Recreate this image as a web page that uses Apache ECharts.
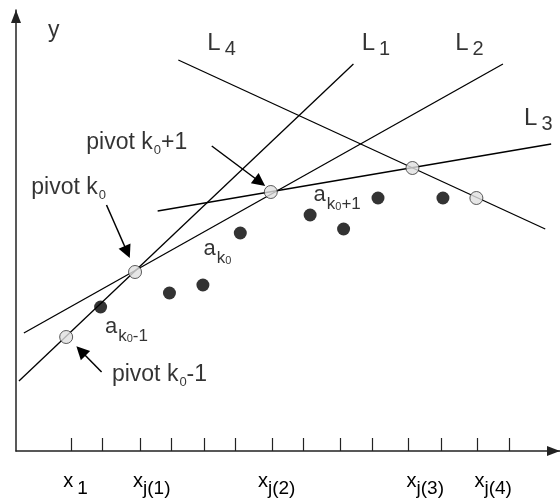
<!DOCTYPE html>
<html>
<head>
<meta charset="utf-8">
<script src="https://cdn.jsdelivr.net/npm/echarts@6/dist/echarts.min.js"></script>
<style>
  html, body { margin: 0; padding: 0; background: #fff; }
  #chart { width: 560px; height: 500px; }
</style>
</head>
<body>
<div id="chart"></div>
<script>
// axis ticks and where the x labels sit (data units)
const xTicks = [5.6, 8.8, 12.6, 15.8, 19.1, 22.3, 26.0, 29.2, 33.0, 36.2, 39.9, 43.2, 46.9, 50.1];
const xLabelAt = [4.8, 11.9, 24.6, 39.7, 46.6];
const xLabels = ['{m|x}{s1|1}', '{m|x}{s|j(1)}', '{m|x}{s|j(2)}', '{m|x}{s|j(3)}', '{m|x}{s|j(4)}'];

// data points a_k, pivots are picked out by index
const ptX = [5.1, 8.6, 12.1, 15.6, 19.0, 22.8, 25.9, 29.9, 33.3, 36.8, 40.3, 43.4, 46.8];
const ptY = [11.4, 14.4, 17.9, 15.8, 16.6, 21.8, 25.9, 23.6, 22.2, 25.3, 28.3, 25.3, 25.3];
const pivotIdx = [0, 2, 6, 10, 12];

// the four lines L1..L4 (end points)
const lineL1 = [[0.3, 7.0], [34.3, 38.7]];
const lineL2 = [[0.8, 11.8], [49.5, 38.7]];
const lineL3 = [[14.4, 24.0], [54.4, 30.7]];
const lineL4 = [[16.5, 39.1], [53.8, 22.2]];

// pointer arrows (tail -> head)
const arrowFrom = [[19.9, 30.5], [9.2, 24.6], [8.7, 7.9]];
const arrowTo = [[24.8, 26.9], [11.3, 19.9], [6.6, 10.0]];

// text notes
const noteX = [3.3, 19.5, 35.2, 44.7, 51.7, 7.2, 1.6, 9.8, 19.1, 30.3, 9.1];
const noteY = [42.0, 40.74, 40.74, 40.74, 33.24, 30.75, 26.3, 7.6, 20.17, 25.57, 12.37];
const noteText = [
  '{y|y}',
  '{L|L}{n|4}',
  '{L|L}{n|1}',
  '{L|L}{n|2}',
  '{L|L}{n|3}',
  '{p|pivot k}{z|0}{p|+1}',
  '{p|pivot k}{z|0}',
  '{p|pivot k}{z|0}{p|-1}',
  '{a|a}{k|k}{kz|0}',
  '{a|a}{k|k}{kz|0}{kp|+1}',
  '{a|a}{k|k}{kz|0}{kp|-1}'
];

const FONT = '"Liberation Sans", Arial, Helvetica, sans-serif';
function ts(size, padding) {
  const s = { fontSize: size, fontFamily: FONT, color: '#000' };
  if (padding) s.padding = padding;
  return s;
}
const rich = {
  m: ts(20), s: ts(19, [14, 0, 0, 0]), s1: ts(19, [14, 0, 0, 4]),
  y: ts(23),
  L: ts(24), n: ts(20, [12, 0, 0, 4]),
  p: ts(23), z: ts(13, [15, 0, 0, 1]),
  a: ts(22), k: ts(17, [20, 0, 0, 1]), kz: ts(11, [24, 0, 0, 0]), kp: ts(17, [20, 0, 0, 0])
};

const dots = [];
const pivots = [];
ptX.forEach((x, i) => {
  (pivotIdx.indexOf(i) >= 0 ? pivots : dots).push([x, ptY[i]]);
});

const chart = echarts.init(document.getElementById('chart'));
chart.setOption({
  animation: false,
  grid: { left: 16, right: -9, top: 10, bottom: 49 },
  xAxis: {
    type: 'value', min: 0, max: 55.3,
    splitLine: { show: false },
    axisLine: {
      symbol: ['none', 'triangle'], symbolSize: [10, 13], symbolOffset: [0, -6.5],
      lineStyle: { color: '#222', width: 1.5 }
    },
    axisTick: { show: true, inside: true, length: 13, customValues: xTicks, lineStyle: { color: '#222', width: 1.2 } },
    axisLabel: {
      show: true, customValues: xLabelAt, align: 'left', margin: 14, hideOverlap: false,
      formatter: v => xLabels[xLabelAt.indexOf(v)],
      rich: rich
    }
  },
  yAxis: {
    type: 'value', min: 0, max: 44.1,
    splitLine: { show: false },
    axisTick: { show: false },
    axisLabel: { show: false },
    axisLine: {
      symbol: ['none', 'triangle'], symbolSize: [10, 13], symbolOffset: [0, -6.5],
      lineStyle: { color: '#222', width: 1.5 }
    }
  },
  series: [
    {
      type: 'lines', coordinateSystem: 'cartesian2d', silent: true,
      lineStyle: { color: '#000', width: 1.3, opacity: 1 },
      data: [lineL1, lineL2, lineL3, lineL4].map(c => ({ coords: c }))
    },
    {
      type: 'lines', coordinateSystem: 'cartesian2d', silent: true,
      symbol: ['none', 'triangle'], symbolSize: 13,
      lineStyle: { color: '#000', width: 1.5, opacity: 1 },
      data: arrowFrom.map((f, i) => ({ coords: [f, arrowTo[i]] }))
    },
    {
      type: 'scatter', symbolSize: 13, silent: true,
      itemStyle: { color: '#000' },
      data: dots
    },
    {
      type: 'scatter', symbolSize: 13, silent: true,
      itemStyle: { color: '#e0e0e0', borderColor: '#333', borderWidth: 1 },
      data: pivots
    },
    {
      type: 'scatter', symbolSize: 1, silent: true,
      itemStyle: { color: 'transparent' },
      label: {
        show: true, position: [0, 0], align: 'left', verticalAlign: 'middle',
        formatter: p => noteText[p.dataIndex],
        rich: rich
      },
      data: noteX.map((x, i) => [x, noteY[i]])
    }
  ]
});
</script>
</body>
</html>
